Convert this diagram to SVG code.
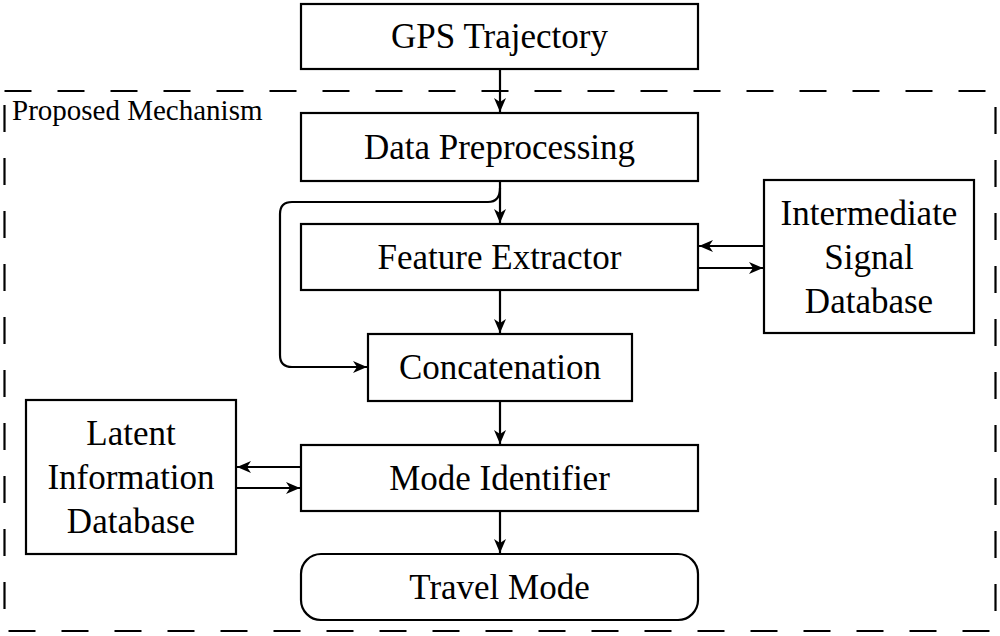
<svg xmlns="http://www.w3.org/2000/svg" width="1000" height="636" viewBox="0 0 1000 636">
<style>
.box{fill:#fff;stroke:#000;stroke-width:2.2}
.t{font-family:"Liberation Serif","Times New Roman",serif;font-size:35px;fill:#000;text-anchor:middle}
.c{fill:none;stroke:#000;stroke-width:2.2}
</style>
<defs>
<marker id="ah" viewBox="-15 -7 16 14" refX="0" refY="0" markerWidth="16" markerHeight="14" markerUnits="userSpaceOnUse" orient="auto">
<path d="M0,0 L-14,-6 L-10,0 L-14,6 Z" fill="#000"/>
</marker>
</defs>
<rect x="0" y="0" width="1000" height="636" fill="#fff"/>
<g id="mechanism">
<rect x="4.5" y="91" width="991" height="540" fill="none" stroke="#000" stroke-width="2.2" stroke-dasharray="27 26"/>
<text x="12" y="120" style="font-family:'Liberation Serif','Times New Roman',serif;font-size:29px">Proposed Mechanism</text>
</g>
<g id="connectors">
<path class="c" d="M500,69 V112" marker-end="url(#ah)"/>
<path class="c" d="M500,181 V223" marker-end="url(#ah)"/>
<path class="c" d="M500,188 Q500,202 488,202 H292 Q280,202 280,214 V355 Q280,367 292,367 H367" marker-end="url(#ah)"/>
<path class="c" d="M500,290 V333" marker-end="url(#ah)"/>
<path class="c" d="M500,401 V444" marker-end="url(#ah)"/>
<path class="c" d="M500,511 V553" marker-end="url(#ah)"/>
<path class="c" d="M764,246 H699" marker-end="url(#ah)"/>
<path class="c" d="M698,268 H763" marker-end="url(#ah)"/>
<path class="c" d="M301,467 H237" marker-end="url(#ah)"/>
<path class="c" d="M236,488 H300" marker-end="url(#ah)"/>
</g>
<g id="gps">
<rect class="box" x="301" y="4" width="397" height="65"/>
<text class="t" x="499.5" y="48">GPS Trajectory</text>
</g>
<g id="preprocessing">
<rect class="box" x="301" y="113" width="397" height="68"/>
<text class="t" x="499.5" y="158.5">Data Preprocessing</text>
</g>
<g id="feature">
<rect class="box" x="301" y="224" width="397" height="66"/>
<text class="t" x="499.5" y="268.5">Feature Extractor</text>
</g>
<g id="concat">
<rect class="box" x="368" y="334" width="264" height="67"/>
<text class="t" x="500" y="379">Concatenation</text>
</g>
<g id="mode">
<rect class="box" x="301" y="445" width="397" height="66"/>
<text class="t" x="499.5" y="489.5">Mode Identifier</text>
</g>
<g id="travel">
<rect class="box" x="301" y="554" width="397" height="66" rx="20" ry="20"/>
<text class="t" x="499.5" y="598.5">Travel Mode</text>
</g>
<g id="isd">
<rect class="box" x="764" y="180" width="210" height="153"/>
<text class="t" x="869" y="225">Intermediate</text>
<text class="t" x="869" y="269">Signal</text>
<text class="t" x="869" y="313">Database</text>
</g>
<g id="lid">
<rect class="box" x="26" y="400" width="210" height="154"/>
<text class="t" x="131" y="445">Latent</text>
<text class="t" x="131" y="489">Information</text>
<text class="t" x="131" y="533">Database</text>
</g>
</svg>
